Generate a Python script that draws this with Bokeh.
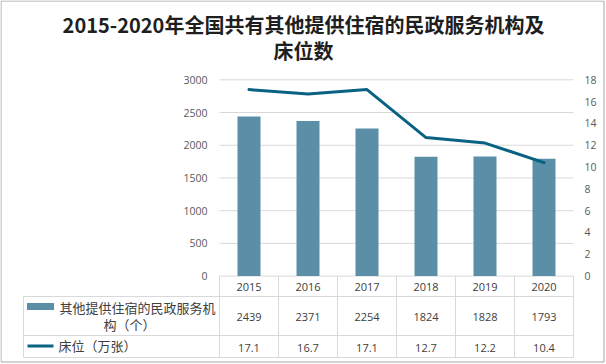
from bokeh.plotting import figure
from bokeh.models import Range1d, LinearAxis, FixedTicker
from bokeh.core.properties import value
from bokeh.embed import file_html
from bokeh.resources import INLINE

# ---------------- data ----------------
years = ["2015", "2016", "2017", "2018", "2019", "2020"]
institutions = [2439, 2371, 2254, 1824, 1828, 1793]
beds = [17.1, 16.7, 17.1, 12.7, 12.2, 10.4]
left_ticks = [0, 500, 1000, 1500, 2000, 2500, 3000]
right_ticks = [0, 2, 4, 6, 8, 10, 12, 14, 16, 18]
series_names = ["其他提供住宿的民政服务机构（个）", "床位（万张）"]
title_lines = ["2015-2020年全国共有其他提供住宿的民政服务机构及", "床位数"]

# ---------------- layout helpers (pixel -> data) ----------------
COL = 59.0                      # px per category
X0 = 248.5                      # px of first category centre
Y0 = 275.6                      # px of value 0
KY = 196.3 / left_ticks[-1]     # px per left-axis unit
RSCALE = right_ticks[-1] / left_ticks[-1]


def X(px):
    return (px - X0) / COL


def Y(px):
    return (Y0 - px) / KY


W, H = 606, 364
x_start, x_end = X(0), X(W)
y_start, y_end = Y(H), Y(0)

BAR = "#5B8FA8"
LINE = "#0A6283"
GRID = "#D9D9D9"
TXT = "#404040"
AX = "#595959"

p = figure(width=W, height=H, x_range=Range1d(x_start, x_end),
           y_range=Range1d(y_start, y_end), output_backend="svg",
           toolbar_location=None, x_axis_location=None, y_axis_location="left",
           min_border=0, outline_line_color=None)
p.extra_y_ranges = {"right": Range1d(y_start * RSCALE, y_end * RSCALE)}
p.xgrid.visible = False
p.ygrid.visible = False
p.background_fill_color = "white"
p.border_fill_color = "white"

n = len(years)
idx = list(range(n))
lo, hi = -0.5, n - 0.5

# outer chart border
bx0, bx1, by0, by1 = X(0.5), X(603.5), Y(0.5), Y(361.5)
p.segment(x0=[bx0, bx0, bx0, bx1], x1=[bx1, bx1, bx0, bx1],
          y0=[by0, by1, by0, by0], y1=[by0, by1, by1, by1],
          line_color="#A6A6A6", line_width=1)

# left axis
ya = p.yaxis[0]
ya.fixed_location = lo
ya.ticker = FixedTicker(ticks=left_ticks)
ya.axis_line_color = None
ya.major_tick_line_color = None
ya.minor_tick_line_color = None
ya.major_tick_out = 0
ya.major_tick_in = 0
ya.major_label_standoff = 12
ya.major_label_text_font = "Open Sans"
ya.major_label_text_font_size = "10.5px"
ya.major_label_text_color = AX

# right axis
ra = LinearAxis(y_range_name="right", ticker=FixedTicker(ticks=right_ticks),
                fixed_location=hi)
ra.axis_line_color = None
ra.major_tick_line_color = None
ra.minor_tick_line_color = None
ra.major_tick_out = 0
ra.major_tick_in = 0
ra.major_label_standoff = 11
ra.major_label_text_font = "Open Sans"
ra.major_label_text_font_size = "10.5px"
ra.major_label_text_color = AX
p.add_layout(ra, "right")

# gridlines
p.segment(x0=[lo] * len(left_ticks), x1=[hi] * len(left_ticks),
          y0=left_ticks, y1=left_ticks, line_color=GRID, line_width=1)

# bars and line
p.vbar(x=idx, top=institutions, width=0.39, bottom=0,
       fill_color=BAR, line_color=None)
p.line(x=idx, y=beds, y_range_name="right", line_color=LINE, line_width=3,
       line_join="round", line_cap="round")

# ---------------- data table ----------------
tl = X(23)
r1, r2, rb = Y(296), Y(335), Y(357)
p.segment(x0=[tl, tl, tl], x1=[hi, hi, hi], y0=[r1, r2, rb], y1=[r1, r2, rb],
          line_color=GRID, line_width=1)
vx = [lo + i for i in range(n + 1)]
p.segment(x0=vx, x1=vx, y0=[0] * len(vx), y1=[rb] * len(vx),
          line_color=GRID, line_width=1)
p.segment(x0=[tl], x1=[tl], y0=[r1], y1=[rb], line_color=GRID, line_width=1)

p.text(x=idx, y=[Y(286)] * n, text=years, text_align="center",
       text_baseline="middle", text_font=value("Open Sans"),
       text_font_size="11px", text_color=TXT)
p.text(x=idx, y=[Y(316)] * n, text=[str(v) for v in institutions],
       text_align="center", text_baseline="middle",
       text_font=value("Open Sans"), text_font_size="11px", text_color=TXT)
p.text(x=idx, y=[Y(347)] * n, text=["%.1f" % v for v in beds],
       text_align="center", text_baseline="middle",
       text_font=value("Open Sans"), text_font_size="11px", text_color=TXT)

# legend keys in table
p.rect(x=[X(40)], y=[Y(306)], width=27, height=7, width_units="screen",
       height_units="screen", fill_color=BAR, line_color=None)
p.segment(x0=[X(27)], x1=[X(53)], y0=[Y(345.5)], y1=[Y(345.5)],
          line_color=LINE, line_width=3)
name1 = series_names[0]
p.text(x=[X(59)], y=[Y(306.7)], text=[name1[:12]], text_align="left",
       text_baseline="middle", text_font=value("Noto Sans CJK SC"),
       text_font_size="13px", text_color=TXT)
p.text(x=[X(129)], y=[Y(324)], text=[name1[12:]], text_align="center",
       text_baseline="middle", text_font=value("Noto Sans CJK SC"),
       text_font_size="13px", text_color=TXT)
p.text(x=[X(58)], y=[Y(345)], text=[series_names[1]], text_align="left",
       text_baseline="middle", text_font=value("Noto Sans CJK SC"),
       text_font_size="13px", text_color=TXT)

# title
p.text(x=[X(303), X(303)], y=[Y(24), Y(50)], text=title_lines,
       text_align="center", text_baseline="middle",
       text_font=value("Noto Sans CJK SC"), text_font_style="bold",
       text_font_size="20px", text_color="#1F1F1F")

open("out.html", "w").write(file_html(p, INLINE))
